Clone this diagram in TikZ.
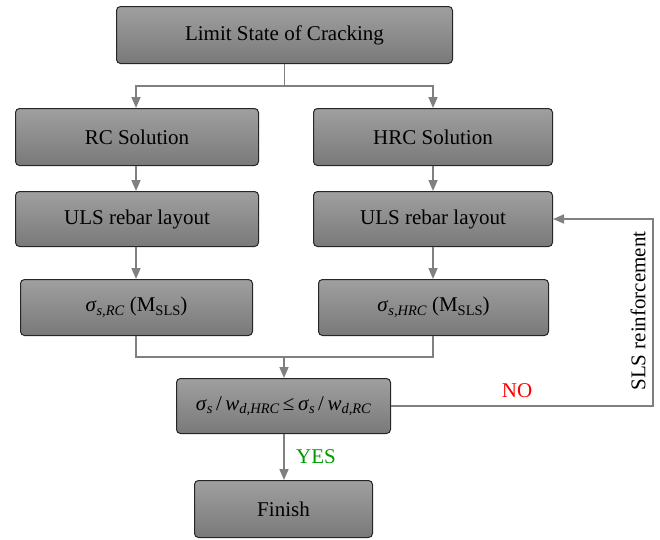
\documentclass[tikz,border=0pt]{standalone}
\usepackage{fontspec}
\setmainfont{Liberation Serif}
\usetikzlibrary{arrows.meta}
\newcommand{\sbs}[1]{\raisebox{-0.35ex}{\fontsize{14.5}{14.5}\selectfont #1}}
\begin{document}
\begin{tikzpicture}[x=1pt,y=-1pt,
  box/.style={draw=black!85,line width=1pt,rounded corners=4pt,top color=gray!75,bottom color=gray!95!black!100,
    minimum height=0,inner sep=0,font=\fontsize{21}{24}\selectfont},
  conn/.style={draw=gray,line width=1.6pt},
  arr/.style={conn,-{Triangle[width=9pt,length=11pt]}},
  lbl/.style={font=\fontsize{21}{24}\selectfont}]
\useasboundingbox (0,0) rectangle (660,539);
\newcommand{\mybox}[6]{\node[box,minimum width=#4-#2,minimum height=#5-#3,anchor=north west] (#1) at (#2,#3) {#6};}
\mybox{top}{116}{6}{452}{63}{Limit State of Cracking}
\mybox{rcs}{15}{108}{258}{165}{RC Solution}
\mybox{hrcs}{313}{108}{552}{165}{HRC Solution}
\mybox{ulsl}{15}{191}{258}{246}{ULS rebar layout}
\mybox{ulsr}{313}{191}{552}{246}{ULS rebar layout}
\mybox{sl}{20}{279}{252}{335}{\textit{σ}\sbs{\textit{s,RC}} (M\sbs{SLS})}
\mybox{sr}{318}{279}{548}{335}{\textit{σ}\sbs{\textit{s,HRC}} (M\sbs{SLS})}
\mybox{dec}{176}{378}{390}{433}{\textit{σ}\sbs{\textit{s}}\,/\,\textit{w}\sbs{\textit{d,HRC}}\,≤\,\textit{σ}\sbs{\textit{s}}\,/\,\textit{w}\sbs{\textit{d,RC}}}
\mybox{fin}{194}{480}{372}{537}{Finish}
\coordinate (j1) at (top.south |- 0,86);
\coordinate (j2) at (284,357);
\coordinate (r) at (653,406);
\draw[conn] (top.south) -- (j1);
\draw[arr] (j1) -| (rcs.north -| 136,0);
\draw[arr] (j1) -| (hrcs.north -| 433,0);
\draw[arr] (rcs.south -| 136,0) -- (ulsl.north -| 136,0);
\draw[arr] (hrcs.south -| 433,0) -- (ulsr.north -| 433,0);
\draw[arr] (ulsl.south -| 136,0) -- (sl.north -| 136,0);
\draw[arr] (ulsr.south -| 433,0) -- (sr.north -| 433,0);
\draw[conn] (sl.south -| 136,0) |- (j2);
\draw[conn] (sr.south -| 433,0) |- (j2);
\draw[arr] (j2) -- (dec.north -| 284,0);
\draw[arr] (dec.east |- r) -- (r) |- (ulsr.east);
\draw[arr] (dec.south -| 284,0) -- node[right=8pt,text=green!60!black,lbl] (yes) {YES} (fin.north -| 284,0);
\node[text=red,lbl] (no) at (517,391) {NO};
\node[rotate=90,lbl] (slsr) at (638,311) {SLS reinforcement};
\end{tikzpicture}
\end{document}
